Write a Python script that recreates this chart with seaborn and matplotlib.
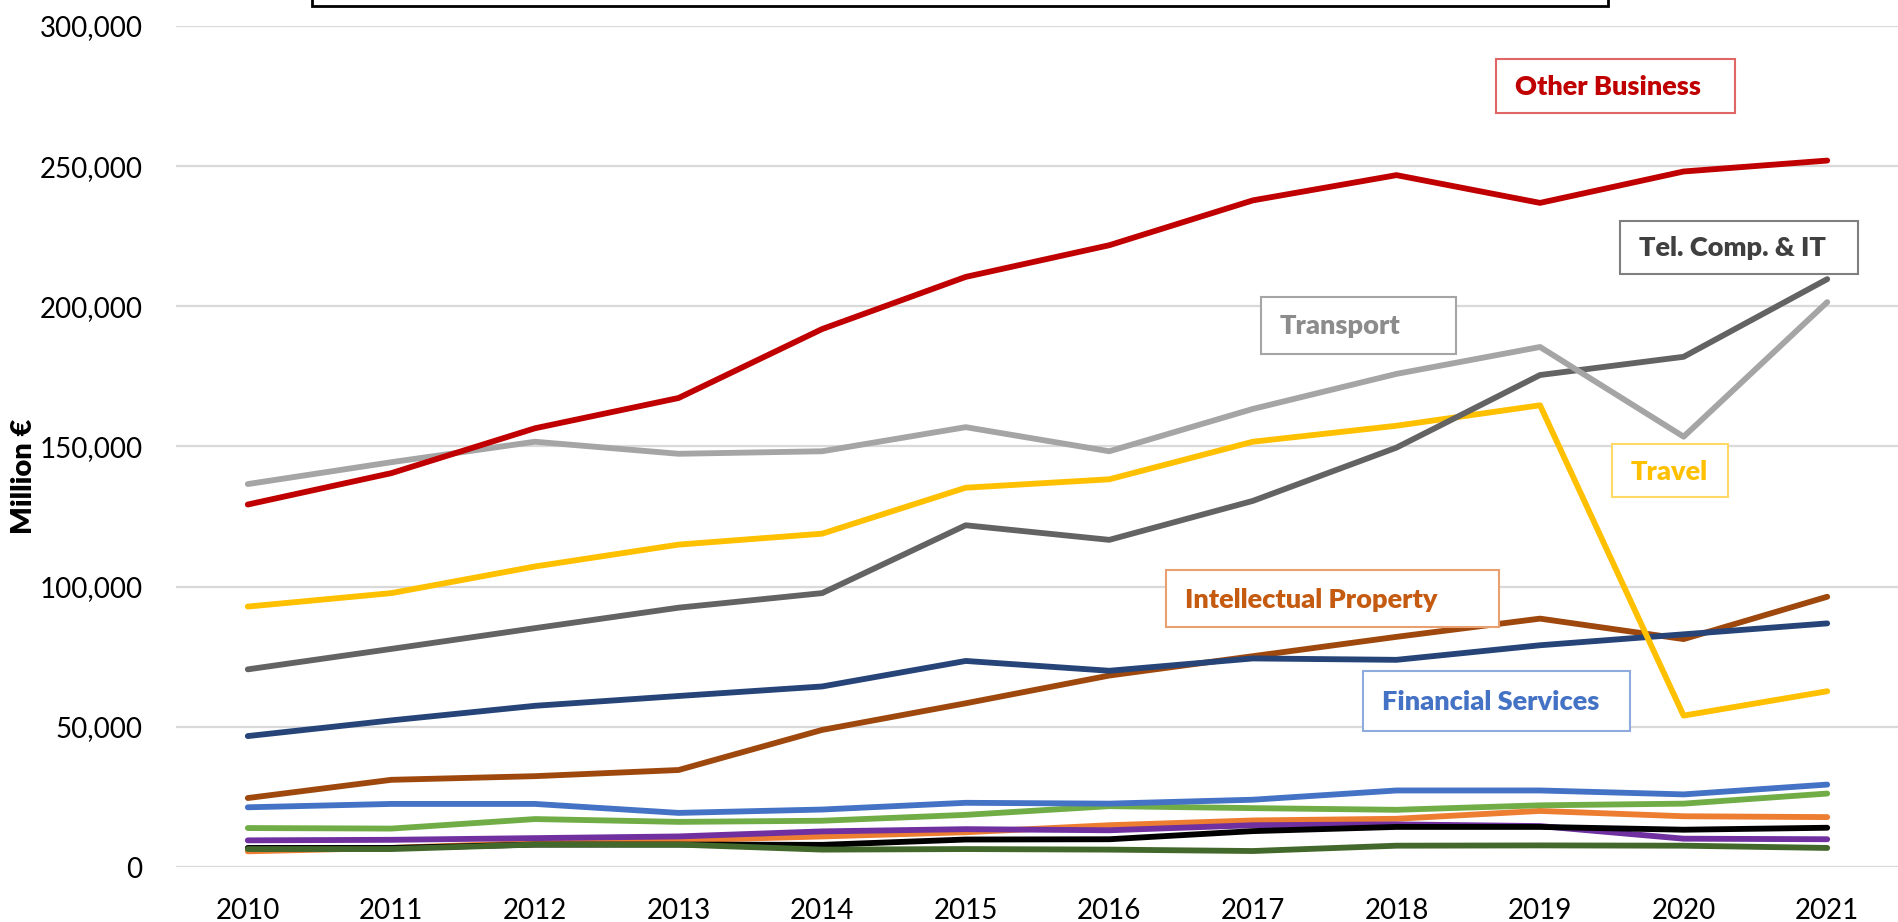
import matplotlib
matplotlib.use("Agg")
import matplotlib.pyplot as plt
from matplotlib.patches import Rectangle
from matplotlib.ticker import FuncFormatter
import seaborn as sns
import pandas as pd

# ---------------- data ----------------
years = ["2010", "2011", "2012", "2013", "2014", "2015",
         "2016", "2017", "2018", "2019", "2020", "2021"]

other_business = [129300, 140500, 156500, 167300, 191900, 210500,
                  221800, 237800, 246800, 236900, 248100, 252000]
transport = [136600, 144400, 151700, 147400, 148300, 156900,
             148300, 163400, 175900, 185500, 153500, 201500]
tel_comp_it = [70500, 77800, 85200, 92500, 97700, 121900,
               116700, 130600, 149600, 175500, 182000, 209700]
travel = [92900, 97700, 107200, 115000, 118900, 135300,
          138300, 151700, 157400, 164700, 54000, 62700]
intellectual_property = [24600, 31100, 32400, 34600, 48900, 58400,
                         68300, 75200, 82100, 88600, 81300, 96400]
financial_services = [46700, 52300, 57500, 61000, 64400, 73500,
                      70000, 74400, 73900, 79100, 83000, 86900]
series_blue = [21300, 22500, 22500, 19300, 20500, 22900,
               22600, 24000, 27300, 27300, 25900, 29400]
series_green = [13900, 13700, 17100, 16100, 16500, 18600,
                21700, 21000, 20400, 22000, 22600, 26200]
series_orange = [5600, 6800, 8600, 9500, 10900, 12400,
                 14900, 16600, 17200, 20000, 18100, 17800]
series_purple = [9500, 9700, 10300, 10900, 12700, 13500,
                 13100, 14900, 15200, 14600, 10100, 9900]
series_black = [6800, 6800, 8000, 8000, 7900, 9800,
                9900, 12800, 14300, 14300, 13300, 14000]
series_darkgreen = [6400, 6400, 8000, 8000, 6200, 6400,
                    6200, 5700, 7600, 7700, 7600, 6800]

y_ticks = [0, 50000, 100000, 150000, 200000, 250000, 300000]

# drawing order (later = on top)
series = {
    "Series orange": (series_orange, "#ED7D31"),
    "Series purple": (series_purple, "#7030A0"),
    "Series black": (series_black, "#000000"),
    "Series dark green": (series_darkgreen, "#43682B"),
    "Series green": (series_green, "#70AD47"),
    "Series blue": (series_blue, "#4472C4"),
    "Intellectual Property": (intellectual_property, "#9E480E"),
    "Financial Services": (financial_services, "#264478"),
    "Travel": (travel, "#FFC000"),
    "Tel. Comp. & IT": (tel_comp_it, "#636363"),
    "Transport": (transport, "#A5A5A5"),
    "Other Business": (other_business, "#C00000"),
}

rows = []
for name, (vals, _c) in series.items():
    for i, v in enumerate(vals):
        rows.append({"series": name, "x": i, "value": v})
df = pd.DataFrame(rows)
palette = {k: c for k, (v, c) in series.items()}

# ---------------- style ----------------
sns.set_theme(style="white")
plt.rcParams["font.family"] = ["Lato", "DejaVu Sans"]

W, H = 1899, 922
fig = plt.figure(figsize=(W / 100, H / 100), dpi=100)
ax = fig.add_axes([176 / W, 55 / H, (W - 176) / W, (867 - 26) / H])

sns.lineplot(data=df, x="x", y="value", hue="series",
             hue_order=list(series.keys()), palette=palette,
             linewidth=4.2, solid_capstyle="round", solid_joinstyle="round",
             legend=False, ax=ax, sort=False)

ax.set_xlim(-0.5, 11.5)
ax.set_ylim(0, 300000)
ax.set_xticks(range(len(years)))
ax.set_xticklabels(years)
ax.set_yticks(y_ticks)
ax.yaxis.set_major_formatter(FuncFormatter(lambda v, p: f"{int(v):,}"))
ax.tick_params(axis="both", length=0, labelsize=20, colors="#000000")
ax.tick_params(axis="x", pad=22)
ax.tick_params(axis="y", pad=24)
ax.set_xlabel("")
ax.set_ylabel("")
for s in ax.spines.values():
    s.set_visible(False)
ax.grid(axis="y", color="#D9D9D9", linewidth=1.6)
ax.set_axisbelow(True)

fig.text(24 / W, 446 / H, "Million €", rotation=90, ha="center", va="center",
         fontsize=21, fontweight="heavy", color="#000000")

# ---------------- label boxes ----------------
def label_box(x0, y0, x1, y1, text, tcolor, ecolor, tx=None):
    fig.patches.append(Rectangle((x0 / W, 1 - y1 / H), (x1 - x0) / W, (y1 - y0) / H,
                                 transform=fig.transFigure, facecolor="white",
                                 edgecolor=ecolor, linewidth=1.5, zorder=5))
    fig.text(((tx if tx is not None else x0 + 19)) / W, 1 - ((y0 + y1) / 2 + 1) / H, text,
             ha="left", va="center", fontsize=19.5, fontweight="heavy",
             color=tcolor, zorder=6)

label_box(1496, 59, 1735, 113, "Other Business", "#C00000", "#E06666")
label_box(1620, 221, 1858, 274, "Tel. Comp. & IT", "#404040", "#7F7F7F")
label_box(1261, 297, 1456, 354, "Transport", "#8C8C8C", "#A5A5A5")
label_box(1612, 444, 1728, 497, "Travel", "#FFC000", "#FFD966")
label_box(1166, 570, 1499, 627, "Intellectual Property", "#C55A11", "#E9A070")
label_box(1363, 671, 1630, 731, "Financial Services", "#4472C4", "#8FAADC")

# top (cut-off) box
fig.patches.append(Rectangle((312 / W, 1 - 6 / H), (1608 - 312) / W, 20 / H,
                             transform=fig.transFigure, facecolor="white",
                             edgecolor="#000000", linewidth=2.0, zorder=5))

fig.savefig("out.png", dpi=100)
